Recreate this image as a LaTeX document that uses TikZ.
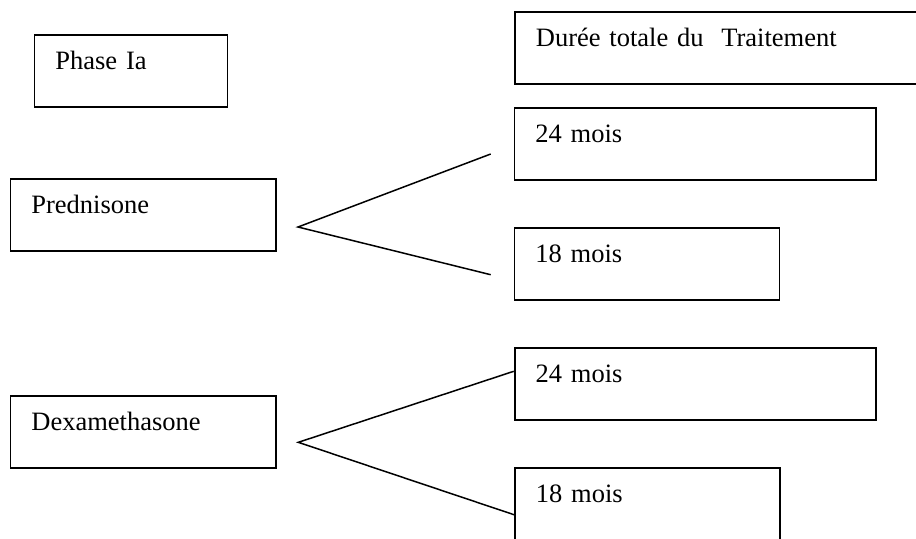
\documentclass[tikz,border=0pt]{standalone}
\usepackage{fontspec}
\setmainfont{Liberation Serif}
\newfontfamily\timesfont{Liberation Serif}
\usetikzlibrary{positioning}

\begin{document}
\begin{tikzpicture}[x=0.5pt, y=-0.5pt,
textbox/.style={rectangle, draw=black, line width=0.9pt, anchor=north west, align=left, inner xsep=10.5pt, inner ysep=0pt, text height=17.5pt, text depth=18.5pt, text width=#1, font=\timesfont\fontsize{13.25pt}{16pt}\selectfont},
forkline/.style={draw=black, line width=0.75pt},
]
\useasboundingbox (0,0) rectangle (916,538);
\clip (0,0) rectangle (916,538);

%Nodes
\node[textbox=75.5pt]      (PhaseIa)        at (33.5,34)     {Phase Ia};
\node[textbox=111.75pt]    (Prednisone)     at (9.5,178)     {Prednisone};
\node[textbox=111.75pt]    (Dexamethasone)  at (9.5,394.7)   {Dexamethasone};
\node[textbox=189pt]       (Duree)          at (514,10.7)    {Durée totale du\ \ Traitement};
\node[textbox=159.7pt]     (PredA)          at (513.5,107)   {24 mois};
\node[textbox=111.5pt]     (PredB)          at (513.5,227)   {18 mois};
\node[textbox=159.7pt]     (DexaA)          at (513.7,346.7) {24 mois};
\node[textbox=111.5pt]     (DexaB)          at (514,466.7)   {18 mois};

%Fork points
\coordinate (forkP)  at (298,227);
\coordinate (forkPa) at (490.7,154);
\coordinate (forkPb) at (490.7,274.7);
\coordinate (forkD)  at (298.3,442.3);
\coordinate (forkDa) at ([yshift=-12.3pt]DexaA.north west);
\coordinate (forkDb) at ([yshift=-24pt]DexaB.north west);

%Lines
\draw[forkline] (forkPa) -- (forkP) -- (forkPb);
\draw[forkline] (forkDa) -- (forkD) -- (forkDb);

\end{tikzpicture}
\end{document}
